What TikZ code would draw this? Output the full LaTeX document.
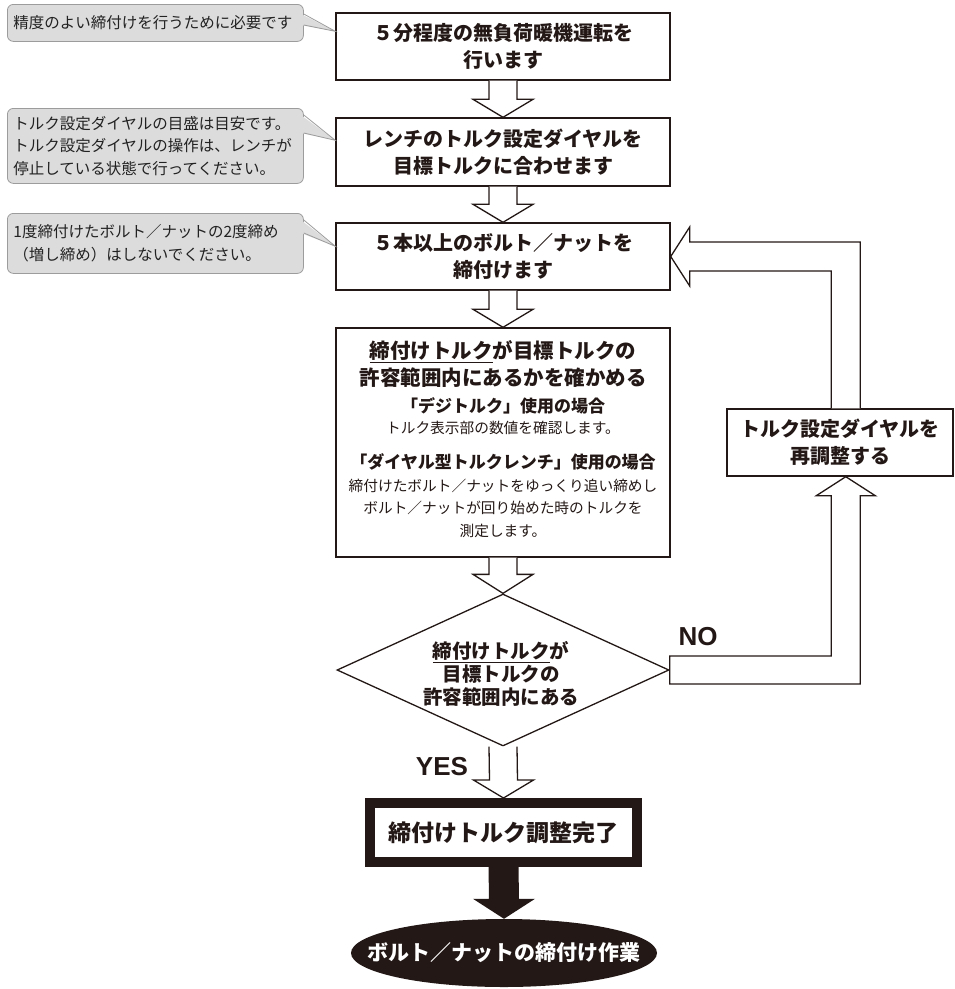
\documentclass[tikz,border=0pt]{standalone}
\usepackage{fontspec}
\setmainfont{Noto Sans CJK JP}[BoldFont={Noto Sans CJK JP Black}]
\newfontfamily\latinblack{Liberation Sans Bold}
\usetikzlibrary{shapes.geometric,calc}
\definecolor{ink}{HTML}{231815}
\definecolor{calfill}{HTML}{DCDCDC}
\definecolor{caldraw}{HTML}{9C9C9C}
\definecolor{caltext}{HTML}{222222}
\newcommand\hdown[3]{%
  \draw[hollow] ($(#1.south)+(-14,0)$) -- ($(#2.north)+(-14,-#3)$) -- ($(#2.north)+(-30,-#3)$)
    -- (#2.north) -- ($(#2.north)+(30,-#3)$) -- ($(#2.north)+(14,-#3)$) -- ($(#1.south)+(14,0)$);}
\begin{document}
\begin{tikzpicture}[x=1pt,y=-1pt,
  stepbox/.style={draw=ink, line width=1.4pt, fill=white, minimum width=334pt, inner sep=0pt},
  title/.style={font=\bfseries\fontsize{20}{27}\selectfont, align=center, text=ink},
  sub/.style={font=\bfseries\fontsize{17}{22}\selectfont, align=center, text=ink},
  body/.style={font=\fontsize{14.7}{22.5}\selectfont, align=center, text=ink},
  hollow/.style={draw=ink, line width=1.3pt, fill=white, line join=miter},
  callout/.style={draw=caldraw, fill=calfill, line width=0.8pt, rounded corners=6pt,
    anchor=north west, minimum width=296pt, text width=284pt, inner sep=6pt, align=left,
    font=\fontsize{15.5}{22.5}\selectfont, text=caltext},
  pointer/.style={draw=caldraw, line width=0.8pt},
  latlabel/.style={font=\latinblack\fontsize{26}{28}\selectfont, text=ink}
]
\useasboundingbox (0,0) rectangle (955,989);

% main step boxes
\node[stepbox, title, minimum height=67pt] (b1) at (503,46.5) {５分程度の無負荷暖機運転を\\行います};
\node[stepbox, title, minimum height=68pt] (b2) at (503,152) {レンチのトルク設定ダイヤルを\\目標トルクに合わせます};
\node[stepbox, title, minimum height=67pt] (b3) at (503,256.5) {５本以上のボルト／ナットを\\締付けます};
\node[stepbox, minimum height=229pt] (b4) at (503,442.5) {};
\node[title, font=\bfseries\fontsize{20.5}{27}\selectfont] (t4a) at (503,364) {\underline{締付けトルク}が目標トルクの\\許容範囲内にあるかを確かめる};
\node[sub] (t4b) at (503,406) {「デジトルク」使用の場合};
\node[body] (t4c) at (503,428) {トルク表示部の数値を確認します。};
\node[sub] (t4d) at (503,462) {「ダイヤル型トルクレンチ」使用の場合};
\node[body] (t4e) at (503,508) {締付けたボルト／ナットをゆっくり追い締めし\\ボルト／ナットが回り始めた時のトルクを\\測定します。};

% decision
\node[diamond, draw=ink, line width=1.3pt, fill=white, minimum width=332pt, minimum height=152pt, aspect=2.2, inner sep=0pt] (d) at (503,670) {};
\node[title, font=\bfseries\fontsize{19.5}{23}\selectfont] (dt) at (501,674) {\underline{締付けトルク}が\\目標トルクの\\許容範囲内にある};

% re-adjust box
\node[stepbox, title, minimum width=226pt, minimum height=67pt] (b6) at (840,442.5) {トルク設定ダイヤルを\\再調整する};

% completion box
\node[draw=ink, line width=10pt, fill=white, minimum width=267pt, minimum height=59pt, inner sep=0pt,
  font=\bfseries\fontsize{23}{27}\selectfont, text=ink] (b5) at (503.5,832.5) {締付けトルク調整完了};

% final ellipse
\node[ellipse, fill=ink, minimum width=306pt, minimum height=68pt, inner sep=0pt] (e) at (504,953) {};
\node[font=\bfseries\fontsize{21}{25}\selectfont, text=white] (et) at (e.center) {ボルト／ナットの締付け作業};

% downward hollow arrows
\hdown{b1}{b2}{18}
\hdown{b2}{b3}{18}
\hdown{b3}{b4}{18}
\hdown{b4}{d}{19}
\hdown{d}{b5}{18}

% black arrow
\fill[ink] ($(b5.south)+(-15,0)$) -- ($(e.north)+(-15,-20)$) -- ($(e.north)+(-31,-20)$) -- (e.north)
  -- ($(e.north)+(31,-20)$) -- ($(e.north)+(15,-20)$) -- ($(b5.south)+(15,0)$) -- cycle;

% NO loop arrows
\draw[hollow] ($(d.east)+(0,-14)$) -| ($(b6.south west)+(105,19)$) -- ++(-15,0) -- ($(b6.south west)+(119.5,0)$)
  -- ++(29.5,19) -- ++(-15,0) |- ($(d.east)+(0,14)$) -- cycle;
\draw[hollow] ($(b6.north west)+(105,0)$) |- ($(b3.east)+(19,14.5)$) -- ++(0,15) -- (b3.east)
  -- ($(b3.east)+(19,-29.5)$) -- ++(0,15) -| ($(b6.north west)+(134,0)$);

% labels
\node[latlabel] (no) at (698,637) {NO};
\node[latlabel] (yes) at (442,767) {YES};

% callouts
\node[callout, minimum height=37pt] (c1) at (7,4) {精度のよい締付けを行うために必要です};
\node[callout, minimum height=75pt] (c2) at (7,108) {トルク設定ダイヤルの目盛は目安です。\\トルク設定ダイヤルの操作は、レンチが\\停止している状態で行ってください。};
\node[callout, minimum height=60pt] (c3) at (7,213) {1度締付けたボルト／ナットの2度締め\\（増し締め）はしないでください。};

\fill[calfill] ($(c1.north east)+(-3,10)$) -- ($(b1.north west)+(0,19)$) -- ($(c1.north east)+(-3,21)$) -- cycle;
\draw[pointer] ($(c1.north east)+(0,10)$) -- ($(b1.north west)+(0,19)$) -- ($(c1.north east)+(0,21)$);
\fill[calfill] ($(c2.north east)+(-3,7)$) -- ($(b2.north west)+(0,23)$) -- ($(c2.north east)+(-3,25)$) -- cycle;
\draw[pointer] ($(c2.north east)+(0,7)$) -- ($(b2.north west)+(0,23)$) -- ($(c2.north east)+(0,25)$);
\fill[calfill] ($(c3.north east)+(-3,7)$) -- ($(b3.north west)+(0,24)$) -- ($(c3.north east)+(-3,20)$) -- cycle;
\draw[pointer] ($(c3.north east)+(0,7)$) -- ($(b3.north west)+(0,24)$) -- ($(c3.north east)+(0,20)$);
\end{tikzpicture}
\end{document}
